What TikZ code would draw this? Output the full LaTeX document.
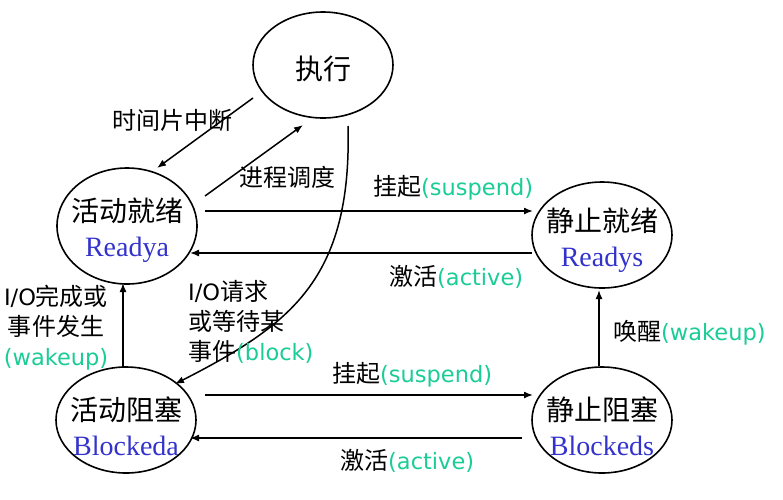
\documentclass[tikz,border=0pt]{standalone}
\usepackage{fontspec}
\setmainfont{DejaVu Sans}
\newfontfamily\cjk{Noto Sans CJK SC}
\newfontfamily\dv{DejaVu Sans}
\newfontfamily\serifb{Liberation Serif}
\usetikzlibrary{shapes.geometric,arrows.meta}
\definecolor{grn}{RGB}{26,204,150}
\definecolor{blu}{RGB}{51,51,204}
\tikzset{
  st/.style={ellipse,draw,line width=1.6pt,inner sep=0pt,minimum width=140pt,minimum height=106pt},
  sttext/.style={inner sep=0pt,align=center,font=\fontsize{28}{35}\selectfont},
  arr/.style={line width=1.5pt,-{Latex[length=9pt,width=7pt]}},
  lbl/.style={inner sep=0pt,align=left},
  cjkl/.style={font=\cjk\fontsize{24}{30}\selectfont}
}
\newcommand{\en}[1]{{\dv\fontsize{22.5}{30}\selectfont\color{grn}#1}}
\newcommand{\io}{{\dv\fontsize{22.5}{30}\selectfont I/O}}
\newcommand{\nt}[2]{{\cjk #1}\\{\serifb\color{blu}#2}}
\begin{document}
\begin{tikzpicture}[x=1pt,y=-1pt]
\useasboundingbox (0,0) rectangle (783,499);
\node[st] (ex) at (323,65) {};
\node[st,minimum height=116pt] (ra) at (127,226) {};
\node[st] (rs) at (602,235) {};
\node[st] (ba) at (126,420) {};
\node[st] (bs) at (602,420) {};
\node[sttext] (ext) at ([yshift=-4pt]ex.center) {\cjk 执行};
\node[sttext] (rat) at ([yshift=-4pt]ra.center) {\nt{活动就绪}{Readya}};
\node[sttext] (rst) at ([yshift=-5pt]rs.center) {\nt{静止就绪}{Readys}};
\node[sttext] (bat) at ([yshift=-6.5pt]ba.center) {\nt{活动阻塞}{Blockeda}};
\node[sttext] (bst) at ([yshift=-6.5pt]bs.center) {\nt{静止阻塞}{Blockeds}};
% coordinates for connector ends
\coordinate (a1) at (253,98);  \coordinate (a2) at (157,168);
\coordinate (b1) at (205,196); \coordinate (b2) at (303,125);
\coordinate (c1) at (205,211); \coordinate (c2) at (533,211);
\coordinate (d1) at (532,253); \coordinate (d2) at (190,253);
\coordinate (e1) at (348,126); \coordinate (e2) at (175,384);
\coordinate (f1) at (123,367); \coordinate (f2) at (123,283);
\coordinate (g1) at (205,395); \coordinate (g2) at (533,395);
\coordinate (h1) at (522,438); \coordinate (h2) at (190,438);
\coordinate (k1) at (599,366); \coordinate (k2) at (599,290);
\draw[arr] (a1) -- (a2);
\draw[arr] (b1) -- (b2);
\draw[arr] (c1) -- (c2);
\draw[arr] (d1) -- (d2);
\draw[arr] (e1) .. controls (352,280) and (290,325) .. (e2);
\draw[arr] (f1) -- (f2);
\draw[arr] (g1) -- (g2);
\draw[arr] (h1) -- (h2);
\draw[arr] (k1) -- (k2);
% labels
\node[lbl,cjkl] (l1) at (172,120) {时间片中断};
\node[lbl,cjkl] (l2) at (287,177) {进程调度};
\node[lbl,cjkl,anchor=west] (l3) at (373,188) {挂起\en{(suspend)}};
\node[lbl,cjkl,anchor=west] (l4) at (389,277) {激活\en{(active)}};
\node[lbl,cjkl,align=center] (l5) at (56,328) {\io 完成或\\事件发生\\\en{(wakeup)}};
\node[lbl,cjkl,align=left,anchor=west] (l6) at (188,322) {\io 请求\\或等待某\\事件\en{(block)}};
\node[lbl,cjkl,anchor=west] (l7) at (332,375) {挂起\en{(suspend)}};
\node[lbl,cjkl,anchor=west] (l8) at (340,461) {激活\en{(active)}};
\node[lbl,cjkl,anchor=west] (l9) at (613,333) {唤醒\en{(wakeup)}};
\end{tikzpicture}
\end{document}
